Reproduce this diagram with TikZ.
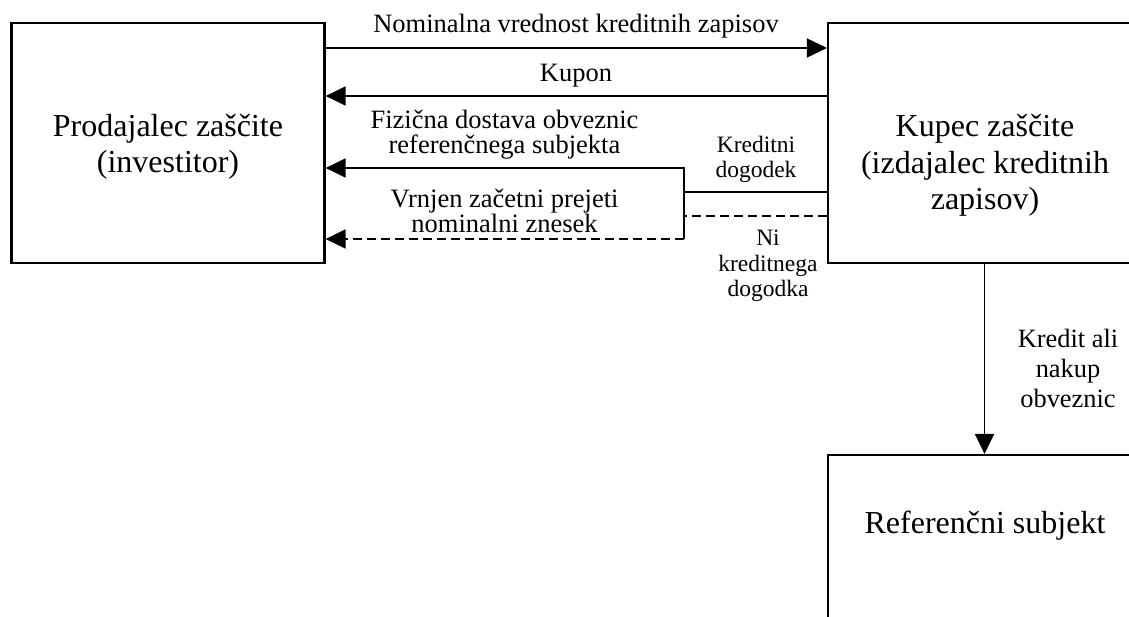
\documentclass[tikz,border=0pt]{standalone}
\usepackage{fontspec}
\setmainfont{Liberation Serif}
\usetikzlibrary{arrows.meta}
\tikzset{
  party/.style={draw, line width=2.2pt, rectangle, minimum width=313pt, minimum height=240pt, inner sep=0pt},
  boxtext/.style={anchor=base, align=center, inner sep=0pt, font=\fontsize{32}{36.5}\selectfont},
  flowtext/.style={anchor=base, align=center, inner sep=0pt, font=\fontsize{26.5}{25}\selectfont},
  eventtext/.style={anchor=base, align=center, inner sep=0pt, font=\fontsize{23.5}{25.5}\selectfont},
  flow/.style={line width=1.9pt, -{Triangle[length=20pt,width=19pt]}},
  plain/.style={line width=1.9pt},
  nocredit/.style={line width=1.9pt, dash pattern=on 9pt off 5pt}
}
\begin{document}
\begin{tikzpicture}[x=1pt,y=-1pt]
\useasboundingbox (0,0) rectangle (1129,617);
\clip (0,0) rectangle (1129,617);

% the three parties
\node[party] (L) at (168,143) {};
\node[party] (R) at (984.5,143) {};
\node[party] (B) at (984.5,575) {};

% party names (anchored at the baseline of their last line)
\node[boxtext] (tL) at (168,173) {Prodajalec zaščite\\(investitor)};
\node[boxtext] (tR) at (985,210) {Kupec zaščite\\(izdajalec kreditnih\\zapisov)};
\node[boxtext] (tB) at (985,533) {Referenčni subjekt};

% junction points of the settlement branches
\coordinate (jtop) at (684,168);
\coordinate (jmid) at (684,192);
\coordinate (jdash) at (684,216);
\coordinate (jbot) at (684,239);

% payment flows
\draw[flow] (L.east |- 0,48) -- (R.west |- 0,48);
\draw[flow] (R.west |- 0,96) -- (L.east |- 0,96);
\draw[flow] (R.west |- jmid) -- (jmid) -- (jtop) -- (L.east |- jtop);
\draw[plain] (jmid) -- (jbot);
\draw[nocredit] (R.west |- jdash) -- (jdash);
\draw[nocredit, -{Triangle[length=20pt,width=19pt]}] (jbot) -- (L.east |- jbot);
\draw[flow] (R.south) -- (B.north);

% flow labels
\node[flowtext] (nom) at (576,33) {Nominalna vrednost kreditnih zapisov};
\node[flowtext] (kup) at (576,82) {Kupon};
\node[flowtext] (fiz) at (504.5,154) {Fizična dostava obveznic\\referenčnega subjekta};
\node[flowtext] (vrn) at (504.5,233) {Vrnjen začetni prejeti\\nominalni znesek};
\node[eventtext] (kd) at (756,178) {Kreditni\\dogodek};
\node[eventtext] (ni) at (768,297) {Ni\\kreditnega\\dogodka};
\node[flowtext, font=\fontsize{26.4}{30}\selectfont] (kr) at (1068,407) {Kredit ali\\nakup\\obveznic};
\end{tikzpicture}
\end{document}
